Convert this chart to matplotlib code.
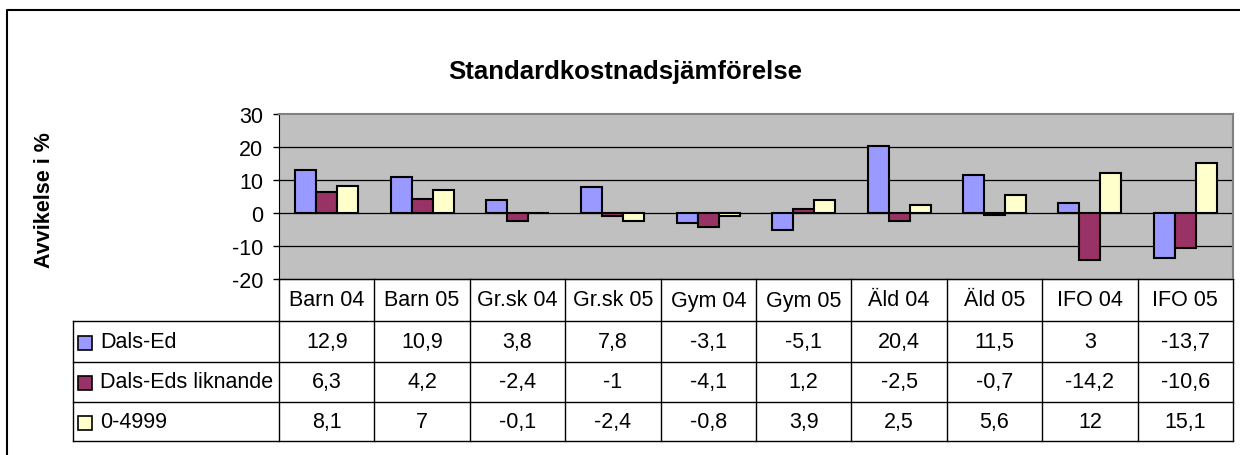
import matplotlib.pyplot as plt
from matplotlib.transforms import blended_transform_factory
from matplotlib.patches import Rectangle
from matplotlib.lines import Line2D
import numpy as np

plt.rcParams['font.family'] = ['Liberation Sans', 'DejaVu Sans']

# data
kategorier = ["Barn 04", "Barn 05", "Gr.sk 04", "Gr.sk 05", "Gym 04",
              "Gym 05", "Äld 04", "Äld 05", "IFO 04", "IFO 05"]
serier = ["Dals-Ed", "Dals-Eds liknande", "0-4999"]
dals_ed = [12.9, 10.9, 3.8, 7.8, -3.1, -5.1, 20.4, 11.5, 3, -13.7]
dals_eds_liknande = [6.3, 4.2, -2.4, -1, -4.1, 1.2, -2.5, -0.7, -14.2, -10.6]
kommuner_0_4999 = [8.1, 7, -0.1, -2.4, -0.8, 3.9, 2.5, 5.6, 12, 15.1]
farger = ["#9999FF", "#993366", "#FFFFCC"]
yticks = [-20, -10, 0, 10, 20, 30]

W, H = 1240, 456
fig = plt.figure(figsize=(W / 100, H / 100), dpi=100)

# plot area in pixels: x 279..1233, y 115..280
ax = fig.add_axes([279 / W, 1 - 280 / H, (1233 - 279) / W, 165 / H])
ax.set_facecolor("#C0C0C0")

x = np.arange(len(kategorier))
bw = 0.22
for i, (vals, col) in enumerate(zip([dals_ed, dals_eds_liknande, kommuner_0_4999], farger)):
    ax.bar(x + (i - 1) * bw, vals, bw, color=col, edgecolor="black", linewidth=1.5, zorder=3)

ax.set_xlim(-0.5, len(kategorier) - 0.5)
ax.set_ylim(-20, 30)
ax.set_yticks(yticks)
ax.set_yticklabels([str(t) for t in yticks], fontsize=15.5)
ax.tick_params(axis="y", direction="out", length=4.5, width=1, pad=7)
ax.set_xticks([])
for t in [-10, 0, 10, 20]:
    ax.axhline(t, color="black", linewidth=0.9, zorder=1)
ax.spines["left"].set_color("black")
ax.spines["bottom"].set_color("black")
ax.spines["top"].set_color("#808080")
ax.spines["right"].set_color("#808080")
ax.spines["top"].set_linewidth(1.5)
ax.spines["right"].set_linewidth(1.5)

# datatabell under diagrammet
tr = blended_transform_factory(ax.transData, ax.transAxes)
rad_px = [280, 322, 363, 403, 442]
rad_y = [(280 - p) / 165 for p in rad_px]
x_leg = -0.5 + (73 - 279) / 95.4
x_end = len(kategorier) - 0.5

def linje(xs, ys):
    ax.add_line(Line2D(xs, ys, transform=tr, color="black", linewidth=1, clip_on=False))

linje([-0.5, x_end], [rad_y[0], rad_y[0]])
for yy in rad_y[1:]:
    linje([x_leg, x_end], [yy, yy])
for k in range(len(kategorier) + 1):
    linje([k - 0.5, k - 0.5], [rad_y[0], rad_y[-1]])
linje([x_leg, x_leg], [rad_y[1], rad_y[-1]])

def fmt(v):
    return f"{v:g}".replace(".", ",")

for k, kat in enumerate(kategorier):
    ax.text(k, (rad_y[0] + rad_y[1]) / 2, kat, transform=tr, ha="center",
            va="center", fontsize=15.5)
for r, vals in enumerate([dals_ed, dals_eds_liknande, kommuner_0_4999]):
    yc = (rad_y[r + 1] + rad_y[r + 2]) / 2
    for k, v in enumerate(vals):
        ax.text(k, yc, fmt(v), transform=tr, ha="center", va="center", fontsize=15.5)

# förklaringskolumn
for r, (namn, col) in enumerate(zip(serier, farger)):
    c_px = (rad_px[r + 1] + rad_px[r + 2]) / 2
    fig.text(100 / W, 1 - c_px / H, namn, ha="left", va="center", fontsize=15.5)
    fig.patches.append(Rectangle((78 / W, 1 - (c_px + 8) / H), 14 / W, 14 / H,
                                 transform=fig.transFigure, facecolor=col,
                                 edgecolor="black", linewidth=1.2))

# rubrik och y-etikett
fig.text(625 / W, 1 - 72 / H, "Standardkostnadsjämförelse", ha="center", va="center",
         fontsize=18.5, fontweight="bold")
fig.text(45 / W, 1 - 200 / H, "Avvikelse i %", ha="center", va="center",
         fontsize=15.5, fontweight="bold", rotation=90)

# ram runt diagrammet (bara vänster och överkant syns)
fig.lines.append(Line2D([7 / W, 7 / W, 1.0], [0, 1 - 11 / H, 1 - 11 / H],
                        transform=fig.transFigure, color="black", linewidth=1.5))

fig.savefig("out.png", dpi=100)
